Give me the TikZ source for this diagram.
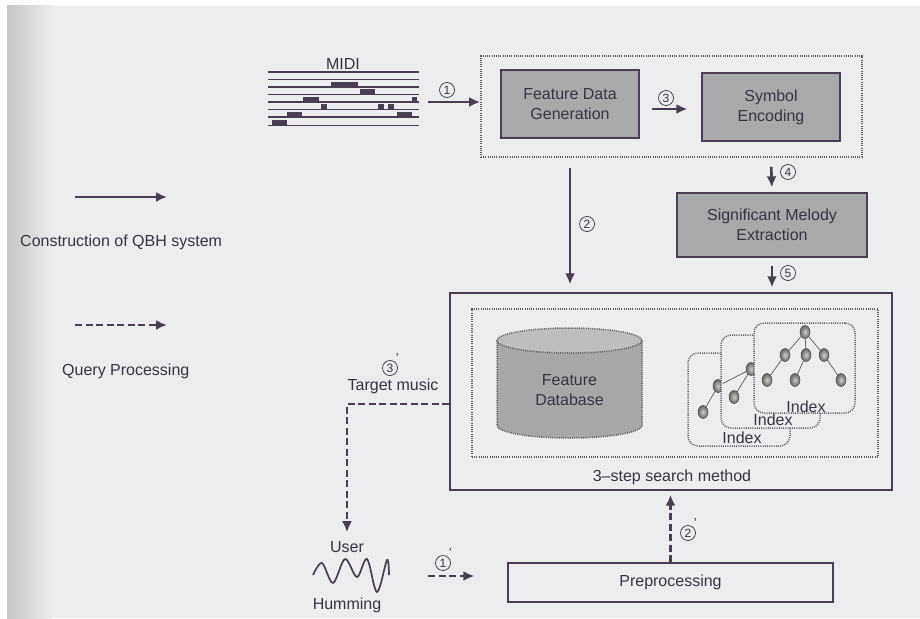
\documentclass[tikz,border=0pt]{standalone}
\usepackage{fontspec}
\setmainfont{Liberation Sans}
\usetikzlibrary{arrows.meta,calc,shapes.geometric}
\definecolor{ink}{HTML}{4A3F52}
\definecolor{txt}{HTML}{3A3340}
\definecolor{paper}{HTML}{EDECEF}
\definecolor{boxgray}{HTML}{A9A8AB}
\definecolor{cylbody}{HTML}{A7A6A9}
\definecolor{cyltop}{HTML}{BEBDC0}
\definecolor{dotink}{HTML}{5E5863}

\begin{document}
\begin{tikzpicture}[x=1pt,y=-1pt,
  lbl/.style={font=\fontsize{16}{20}\selectfont, text=txt, align=center, inner sep=0},
  procbox/.style={draw=ink, line width=1.3pt, fill=boxgray, lbl},
  grpbox/.style={draw=dotink, line width=1.8pt, dash pattern=on 1pt off 1.2pt},
  idxbox/.style={draw=dotink, line width=1.5pt, dash pattern=on 1pt off 1.2pt,
                 rounded corners=10pt, fill=paper},
  arr/.style={draw=ink, line width=2.6pt, -{Latex[length=11pt,width=10pt]}},
  qarr/.style={arr, dash pattern=on 7pt off 3.5pt},
  num/.style={circle, draw=txt, line width=0.7pt, inner sep=0, minimum size=15pt,
              font=\fontsize{12}{12}\selectfont, text=txt},
  primed/.style={label={[inner sep=0.2pt, text=txt, font=\fontsize{13}{13}\selectfont]north east:'}},
  tnode/.style={ellipse, minimum width=10pt, minimum height=13pt, inner sep=0,
                draw=gray!60!black, line width=0.5pt, shading=radial,
                inner color=gray!40, outer color=gray!80!black},
  tedge/.style={draw=gray!70!black, line width=0.7pt},
  staff/.style={draw=ink, line width=1.5pt},
  note/.style={fill=ink},
]
\useasboundingbox (0,0) rectangle (920,618);

% paper with the scanned page shadow on the left
\fill[white] (0,0) rectangle (920,618);
\fill[paper] (7,6) rectangle (920,618);
\shade[left color=gray!45, right color=paper] (7,6) rectangle (52,618);

% ---------- legend ----------
\coordinate (lgA1) at (75,197);
\coordinate (lgA2) at (167,197);
\draw[arr] (lgA1) -- (lgA2);
\node[lbl, anchor=west] (lgC) at (20,242) {Construction of QBH system};
\coordinate (lgB1) at (75,325);
\coordinate (lgB2) at (167,325);
\draw[qarr] (lgB1) -- (lgB2);
\node[lbl, anchor=west] (lgQ) at (62,371) {Query Processing};

% ---------- MIDI staff ----------
\node[lbl] (midi) at (343,64) {MIDI};
\foreach \yy in {72,79.5,87,94.5,102,109.5,117,125.5}
  \draw[staff] (268,\yy) -- (419,\yy);
\foreach \xa/\xb/\yy in {331/358/87, 360/375/94.5, 303/319/102, 412/417/102,
                         321/327/109.5, 378/384/109.5, 388/394/109.5,
                         287/302/117, 397/412/117, 272/287/125.5}
  \fill[note] (\xa,\yy-5.5) rectangle (\xb,\yy);
\coordinate (midiout) at (428,102);

% ---------- construction stage ----------
\node[grpbox, minimum width=381pt, minimum height=101pt] (fdgrp) at (671.5,106.5) {};
\node[procbox, minimum width=138pt, minimum height=68pt] (gen) at (570,104)
  {Feature Data\\Generation};
\node[procbox, minimum width=138pt, minimum height=68pt] (sym) at (771,107)
  {Symbol\\Encoding};
\node[procbox, minimum width=190pt, minimum height=64pt] (sme) at (772,225)
  {Significant Melody\\Extraction};

% ---------- 3-step search ----------
\node[draw=ink, line width=1.3pt, minimum width=442pt, minimum height=197pt, inner sep=0]
  (big) at (671,391.5) {};
\node[grpbox, minimum width=406pt, minimum height=148pt] (inner) at (675,383) {};
\node[lbl] (search) at (672,477) {3--step search method};

% feature database cylinder
\fill[cylbody] (497,340.5) -- (497,425.5) arc (180:0:72.5 and 12.5) -- (642,340.5) -- cycle;
\draw[grpbox, line width=1.5pt] (497,340.5) -- (497,425.5) arc (180:0:72.5 and 12.5) -- (642,340.5);
\filldraw[grpbox, line width=1.5pt, fill=cyltop] (569.5,340.5) ellipse (72.5 and 12.5);
\node[lbl] (fdb) at (569.5,390) {Feature\\Database};

% index trees
\node[idxbox, minimum width=102pt, minimum height=93pt] (ix1) at (739,399.5) {};
\node[lbl] (ix1l) at (742,438) {Index};
\node[tnode] (a1) at (703,412) {};
\node[tnode] (a2) at (718,386) {};
\draw[tedge] (a1) -- (a2);

\node[idxbox, minimum width=99pt, minimum height=93pt] (ix2) at (770.5,381.5) {};
\node[lbl] (ix2l) at (773,420) {Index};
\node[tnode] (b1) at (751,369) {};
\node[tnode] (b2) at (734,397) {};
\draw[tedge] (a2) -- (b1);
\draw[tedge] (b2) -- (b1);

\node[idxbox, minimum width=101pt, minimum height=90pt] (ix3) at (804.5,368) {};
\node[lbl] (ix3l) at (806,407) {Index};
\node[tnode] (c0) at (805,332) {};
\node[tnode] (c1) at (785,355) {};
\node[tnode] (c2) at (806,355) {};
\node[tnode] (c3) at (824,355) {};
\node[tnode] (c4) at (767,380) {};
\node[tnode] (c5) at (795,380) {};
\node[tnode] (c6) at (841,380) {};
\foreach \p/\q in {c0/c1, c0/c2, c0/c3, c1/c4, c2/c5, c3/c6}
  \draw[tedge] (\p) -- (\q);

% ---------- query side ----------
\node[lbl] (tmus) at (393,386) {Target music};
\node[num, primed] (n3p) at (390,368) {3};
\coordinate (tm) at (450,404);
\node[lbl] (user) at (347,547) {User};
\node[lbl] (hum) at (347,605) {Humming};
\draw[ink, line width=1.7pt] plot[smooth, tension=0.55] coordinates
  {(313,575) (322,563) (333,583) (345,559) (357,577) (367,559) (377,592) (387,560) (389,575)};
\coordinate (humout) at (428,576);
\node[draw=ink, line width=1.3pt, minimum width=325pt, minimum height=39pt, lbl]
  (pre) at (670.5,582.5) {Preprocessing};

% ---------- connectors ----------
\draw[arr] (midiout) -- (midiout -| fdgrp.west);
\node[num] (n1) at (447,90) {1};
\draw[arr, shorten <=12pt, shorten >=14pt] (gen.east |- 0,109) -- (sym.west |- 0,109);
\node[num] (n3) at (666,98) {3};
\draw[arr, shorten <=9pt, shorten >=5pt] (sym.south |- fdgrp.south) -- (sme.north);
\node[num] (n4) at (788,172) {4};
\draw[arr, shorten <=8pt, shorten >=5pt] (sme.south) -- (sme.south |- big.north);
\node[num] (n5) at (788,273) {5};
\draw[arr, shorten <=10pt, shorten >=8pt] (gen.south |- fdgrp.south) -- (gen.south |- big.north);
\node[num] (n2) at (587,224) {2};

\draw[qarr, shorten >=9pt] (big.west |- tm) -| (user.north);
\draw[qarr, shorten >=33pt] (humout) -- (humout -| pre.west);
\node[num, primed] (n1p) at (443,563) {1};
\draw[qarr, shorten >=4pt] (pre.north) -- (pre.north |- big.south);
\node[num, primed] (n2p) at (688,533) {2};
\end{tikzpicture}
\end{document}
